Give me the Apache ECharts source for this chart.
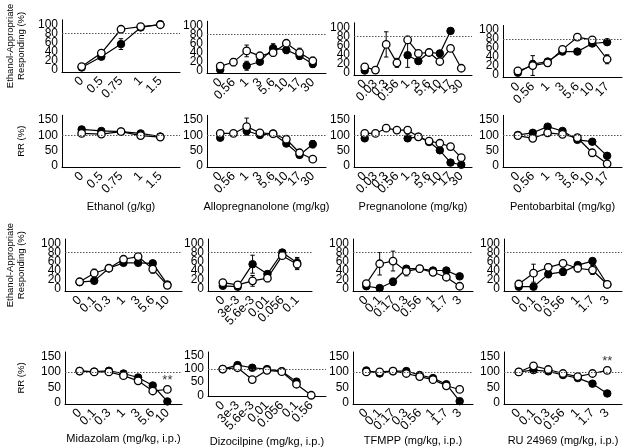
<!DOCTYPE html>
<html><head><meta charset="utf-8">
<script src="https://cdn.jsdelivr.net/npm/echarts@6/dist/echarts.min.js"></script>
<style>html,body{margin:0;padding:0;background:#fff}#c{width:629px;height:448px}</style>
</head><body><div id="c"></div>
<script>
// ---------------- DATA ----------------
// dose tick labels
const ethanolDoses = ['0','0.5','0.75','1','1.5'];
const alloDoses = ['0','0.56','1','3','5.6','10','17','30'];
const pregDoses = ['0','0.03','0.3','0.56','1','3','5.6','10','17','30'];
const pentoDoses = ['0','0.56','1','3','5.6','10','17'];
const midaDoses = ['0','0.1','0.3','1','3','5.6','10'];
const dizoDosesEA = ['0','3e-3','5.6e-3','0.01','0.056','0.1'];
const dizoDosesRR = ['0','3e-3','5.6e-3','0.01','0.056','0.1','0.56'];
const tfmppDoses = ['0','0.1','0.17','0.3','0.56','1','1.7','3'];
const ruDoses = ['0','0.1','0.3','0.56','1','1.7','3'];

// Ethanol
const ethanolEA_fill = [4, 28, 56, 93, 100];
const ethanolEA_fillErr = [2, 4, 12, 3, 0];
const ethanolEA_open = [6, 36, 89, 95, 99];
const ethanolEA_openErr = [2, 4, 4, 2, 0];
const ethanolRR_fill = [119, 114, 112, 106, 96];
const ethanolRR_fillErr = [4, 3, 3, 3, 3];
const ethanolRR_open = [106, 104, 112, 99, 94];
const ethanolRR_openErr = [3, 3, 3, 3, 3];
// Allopregnanolone
const alloEA_fill = [2, null, 11, 20, 50, 46, 33, 15];
const alloEA_fillErr = [2, 0, 10, 6, 10, 8, 8, 8];
const alloEA_open = [10, 19, 44, 33, 40, 61, 40, 22];
const alloEA_openErr = [4, 8, 13, 8, 8, 6, 10, 8];
const alloRR_fill = [92, null, 114, 101, 105, 73, 36, 71];
const alloRR_fillErr = [4, 0, 12, 4, 5, 6, 5, 12];
const alloRR_open = [106, 106, 128, 108, 105, 87, 43, 22];
const alloRR_openErr = [3, 3, 28, 3, 10, 5, 4, 8];
// Pregnanolone
const pregEA_fill = [4, null, null, null, 38, 25, 44, 42, 92, null];
const pregEA_fillErr = [2, 0, 0, 0, 27, 6, 6, 6, 3, 0];
const pregEA_open = [12, 5, 62, 21, 72, 42, 44, 24, 53, 9];
const pregEA_openErr = [3, 2, 28, 10, 8, 6, 5, 7, 6, 3];
const pregRR_fill = [90, null, null, null, 90, 95, 78, 51, 11, 4];
const pregRR_fillErr = [4, 0, 0, 0, 8, 4, 4, 5, 5, 3];
const pregRR_open = [106, 106, 123, 117, 117, 95, 81, 74, 63, 27];
const pregRR_openErr = [3, 8, 3, 3, 3, 3, 3, 5, 8, 10];
// Pentobarbital
const pentoEA_fill = [5, 24, 30, 52, 52, 70, 73];
const pentoEA_fillErr = [2, 8, 6, 5, 5, 6, 5];
const pentoEA_open = [9, 21, 27, 57, 84, 78, 35];
const pentoEA_openErr = [3, 22, 8, 6, 3, 4, 10];
const pentoRR_fill = [101, 108, 128, 114, 85, 79, 33];
const pentoRR_fillErr = [3, 4, 5, 4, 5, 8, 8];
const pentoRR_open = [99, 90, 108, 103, 92, 43, 7];
const pentoRR_openErr = [3, 3, 3, 3, 8, 8, 3];
// Midazolam
const midaEA_fill = [14, 17, 45, 57, 57, 56, 9];
const midaEA_fillErr = [6, 5, 6, 6, 6, 6, 3];
const midaEA_open = [15, 34, 45, 65, 71, 43, 7];
const midaEA_openErr = [5, 9, 6, 6, 6, 9, 3];
const midaRR_fill = [103, 101, 104, 95, 82, 56, 4];
const midaRR_fillErr = [3, 3, 3, 3, 4, 6, 3];
const midaRR_open = [103, 100, 100, 88, 71, 38, 43];
const midaRR_openErr = [3, 3, 3, 3, 5, 6, 6];
const midaRR_sig = [[6, 72]];
// Dizocilpine
const dizoEA_fill = [6, 4, 54, 32, 80, 57];
const dizoEA_fillErr = [2, 2, 20, 7, 3, 12];
const dizoEA_open = [13, 8, 17, 23, 73, 54];
const dizoEA_openErr = [3, 3, 12, 8, 4, 12];
const dizoRR_fill = [100, 115, 105, 100, 92, 52, null];
const dizoRR_fillErr = [3, 5, 5, 4, 4, 10, 0];
const dizoRR_open = [100, 105, 60, 95, 90, 42, 0];
const dizoRR_openErr = [3, 3, 8, 4, 4, 10, 0];
// TFMPP
const tfmppEA_fill = [5, 1, 15, 44, 44, 40, 40, 27];
const tfmppEA_fillErr = [3, 2, 8, 6, 5, 5, 5, 4];
const tfmppEA_open = [11, 55, 61, 38, 44, 36, 25, 5];
const tfmppEA_openErr = [3, 25, 22, 10, 6, 6, 7, 3];
const tfmppRR_fill = [105, 95, 103, 103, 90, 80, 60, 5];
const tfmppRR_fillErr = [3, 4, 4, 4, 4, 5, 5, 3];
const tfmppRR_open = [100, 100, 103, 95, 85, 75, 55, 43];
const tfmppRR_openErr = [3, 4, 8, 4, 4, 5, 6, 6];
// RU 24969
const ruEA_fill = [4, 4, 32, 37, 52, 61, 9];
const ruEA_fillErr = [2, 2, 8, 8, 6, 6, 3];
const ruEA_open = [10, 34, 47, 56, 45, 41, 9];
const ruEA_openErr = [3, 20, 8, 6, 8, 10, 3];
const ruRR_fill = [100, 106, 102, 90, 80, 62, 30];
const ruRR_fillErr = [3, 4, 5, 5, 5, 6, 8];
const ruRR_open = [100, 120, 108, 95, 85, 95, 105];
const ruRR_openErr = [3, 5, 5, 5, 5, 8, 10];
const ruRR_sig = [[6, 135]];

// tick values
const eaTicks = [0, 20, 40, 60, 80, 100];
const rrTicks = [0, 50, 100, 150];

// ---------------- LAYOUT ----------------
const FONT = '"Liberation Sans", Arial, Helvetica, sans-serif';
const SCALE = {
  EA: {min: -6, max: 110, ticks: eaTicks, ref: 80, h: 52.2},
  RR: {min: -4, max: 165, ticks: rrTicks, ref: 100, h: 51.9}
};
const EAname = 'Ethanol-Appropriate\nResponding (%)';
const panels = [
  {d: ethanolDoses, f: ethanolEA_fill, fe: ethanolEA_fillErr, o: ethanolEA_open, oe: ethanolEA_openErr, k: 'EA', l: 62, t: 19.8, w: 118, yn: EAname, yg: 35},
  {d: alloDoses, f: alloEA_fill, fe: alloEA_fillErr, o: alloEA_open, oe: alloEA_openErr, k: 'EA', l: 207, t: 21.2, w: 119},
  {d: pregDoses, f: pregEA_fill, fe: pregEA_fillErr, o: pregEA_open, oe: pregEA_openErr, k: 'EA', l: 354, t: 22.8, w: 118},
  {d: pentoDoses, f: pentoEA_fill, fe: pentoEA_fillErr, o: pentoEA_open, oe: pentoEA_openErr, k: 'EA', l: 503, t: 25.5, w: 119},

  {d: ethanolDoses, f: ethanolRR_fill, fe: ethanolRR_fillErr, o: ethanolRR_open, oe: ethanolRR_openErr, k: 'RR', l: 62, t: 115.3, w: 118, yn: 'RR (%)', yg: 35, xn: 'Ethanol (g/kg)', xg: 34},
  {d: alloDoses, f: alloRR_fill, fe: alloRR_fillErr, o: alloRR_open, oe: alloRR_openErr, k: 'RR', l: 207, t: 115.3, w: 119, xn: 'Allopregnanolone (mg/kg)', xg: 34},
  {d: pregDoses, f: pregRR_fill, fe: pregRR_fillErr, o: pregRR_open, oe: pregRR_openErr, k: 'RR', l: 354, t: 115.3, w: 118, xn: 'Pregnanolone (mg/kg)', xg: 34},
  {d: pentoDoses, f: pentoRR_fill, fe: pentoRR_fillErr, o: pentoRR_open, oe: pentoRR_openErr, k: 'RR', l: 503, t: 115.3, w: 119, xn: 'Pentobarbital (mg/kg)', xg: 34},

  {d: midaDoses, f: midaEA_fill, fe: midaEA_fillErr, o: midaEA_open, oe: midaEA_openErr, k: 'EA', l: 65, t: 239, w: 117, yn: EAname, yg: 38},
  {d: dizoDosesEA, f: dizoEA_fill, fe: dizoEA_fillErr, o: dizoEA_open, oe: dizoEA_openErr, k: 'EA', l: 208, t: 239, w: 104},
  {d: tfmppDoses, f: tfmppEA_fill, fe: tfmppEA_fillErr, o: tfmppEA_open, oe: tfmppEA_openErr, k: 'EA', l: 353, t: 239, w: 120},
  {d: ruDoses, f: ruEA_fill, fe: ruEA_fillErr, o: ruEA_open, oe: ruEA_openErr, k: 'EA', l: 504, t: 239, w: 118},

  {d: midaDoses, f: midaRR_fill, fe: midaRR_fillErr, o: midaRR_open, oe: midaRR_openErr, k: 'RR', l: 65, t: 352, w: 117, yn: 'RR (%)', yg: 38, xn: 'Midazolam (mg/kg, i.p.)', xg: 30, sig: midaRR_sig},
  {d: dizoDosesRR, f: dizoRR_fill, fe: dizoRR_fillErr, o: dizoRR_open, oe: dizoRR_openErr, k: 'RR', l: 208, t: 352, w: 118, xn: 'Dizocilpine (mg/kg, i.p.)', xg: 30},
  {d: tfmppDoses, f: tfmppRR_fill, fe: tfmppRR_fillErr, o: tfmppRR_open, oe: tfmppRR_openErr, k: 'RR', l: 353, t: 352, w: 120, xn: 'TFMPP (mg/kg, i.p.)', xg: 30},
  {d: ruDoses, f: ruRR_fill, fe: ruRR_fillErr, o: ruRR_open, oe: ruRR_openErr, k: 'RR', l: 504, t: 352, w: 118, xn: 'RU 24969 (mg/kg, i.p.)', xg: 30, sig: ruRR_sig}
];

// ---------------- OPTION ----------------
const grid = [], xAxis = [], yAxis = [], series = [];
const errRender = (params, api) => {
  const x = api.value(0);
  const lo = api.coord([x, api.value(1)]);
  const hi = api.coord([x, api.value(2)]);
  const cap = 2.2, st = {stroke: '#000', lineWidth: 1};
  return {type: 'group', children: [
    {type: 'line', shape: {x1: lo[0], y1: lo[1], x2: hi[0], y2: hi[1]}, style: st},
    {type: 'line', shape: {x1: lo[0] - cap, y1: lo[1], x2: lo[0] + cap, y2: lo[1]}, style: st},
    {type: 'line', shape: {x1: hi[0] - cap, y1: hi[1], x2: hi[0] + cap, y2: hi[1]}, style: st}
  ]};
};
const yLabelStyle = {fontSize: 12, color: '#000', fontFamily: FONT, margin: 4,
  showMinLabel: true, showMaxLabel: true, hideOverlap: false};
panels.forEach((p, i) => {
  const s = SCALE[p.k];
  grid.push({left: p.l, top: p.t, width: p.w, height: s.h});
  xAxis.push({
    type: 'value', gridIndex: i, min: -1, max: p.d.length, interval: 1,
    axisLine: {show: true, onZero: false, lineStyle: {color: '#000', width: 1}},
    axisTick: {show: false}, splitLine: {show: false},
    axisLabel: {rotate: 45, fontSize: 12.5, color: '#000', fontFamily: FONT, margin: 7,
      showMinLabel: true, showMaxLabel: true, hideOverlap: false,
      formatter: v => { const r = Math.round(v); return p.d[r] !== undefined ? p.d[r] : ''; }},
    name: p.xn || '', nameLocation: 'middle', nameGap: p.xg || 30,
    nameTextStyle: {fontSize: 11, color: '#000', fontFamily: FONT}
  });
  // main y axis (line, even tick labels, name)
  const yMain = yAxis.length;
  yAxis.push({
    type: 'value', gridIndex: i, position: 'left', min: s.min, max: s.max,
    axisLine: {show: true, onZero: false, lineStyle: {color: '#000', width: 1}},
    axisTick: {show: false}, splitLine: {show: false},
    axisLabel: Object.assign({customValues: s.ticks.filter((t, j) => j % 2 === 0)}, yLabelStyle),
    name: p.yn || '', nameLocation: 'middle', nameRotate: 90, nameGap: p.yg || 30,
    nameTextStyle: {fontSize: 9.5, lineHeight: 11, color: '#000', fontFamily: FONT}
  });
  // companion y axis on same side carrying the odd tick labels (avoids auto-hiding of tight labels)
  yAxis.push({
    type: 'value', gridIndex: i, position: 'left', offset: 0, min: s.min, max: s.max,
    axisLine: {show: false, onZero: false}, axisTick: {show: false}, splitLine: {show: false},
    axisLabel: Object.assign({customValues: s.ticks.filter((t, j) => j % 2 === 1)}, yLabelStyle)
  });
  const errData = [];
  [[p.f, p.fe], [p.o, p.oe]].forEach(([vals, errs]) => {
    vals.forEach((v, k) => { if (v != null && errs[k]) errData.push([k, v - errs[k], v + errs[k]]); });
  });
  series.push({
    type: 'custom', xAxisIndex: i, yAxisIndex: yMain, silent: true, z: 1,
    data: errData, encode: {x: 0, y: [1, 2]}, renderItem: errRender,
    markLine: {silent: true, symbol: ['none', 'none'], label: {show: false},
      lineStyle: {type: [1.5, 1.5], color: '#555', width: 1}, data: [{yAxis: s.ref}]}
  });
  series.push({
    type: 'line', xAxisIndex: i, yAxisIndex: yMain, silent: true, z: 3, connectNulls: false,
    data: p.f.map((v, k) => [k, v == null ? '-' : v]),
    symbol: 'circle', symbolSize: 7.5,
    lineStyle: {color: '#000', width: 1.2},
    itemStyle: {color: '#000', borderColor: '#000', borderWidth: 1}
  });
  series.push({
    type: 'line', xAxisIndex: i, yAxisIndex: yMain, silent: true, z: 4, connectNulls: false,
    data: p.o.map((v, k) => [k, v == null ? '-' : v]),
    symbol: 'circle', symbolSize: 7.5,
    lineStyle: {color: '#000', width: 1.2},
    itemStyle: {color: '#fff', borderColor: '#000', borderWidth: 1.3}
  });
  if (p.sig) {
    series.push({
      type: 'scatter', xAxisIndex: i, yAxisIndex: yMain, silent: true, z: 5,
      data: p.sig, symbolSize: 1, itemStyle: {color: 'rgba(0,0,0,0)'},
      label: {show: true, formatter: '**', position: 'inside', fontSize: 13, color: '#000', fontFamily: FONT}
    });
  }
});

const chart = echarts.init(document.getElementById('c'), null, {renderer: 'canvas'});
chart.setOption({animation: false, backgroundColor: '#fff', grid, xAxis, yAxis, series});
</script></body></html>
